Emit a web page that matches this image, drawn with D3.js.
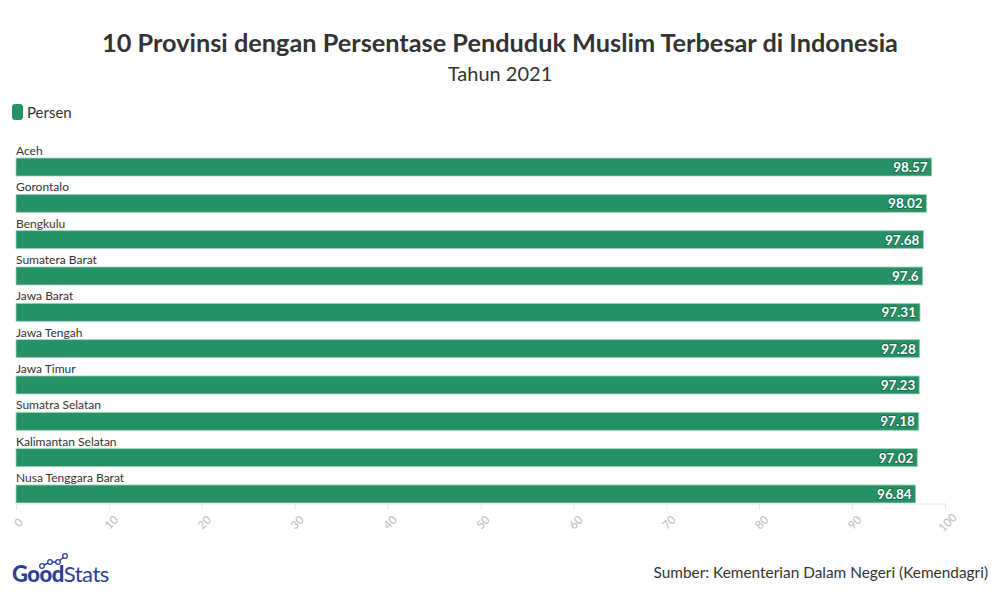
<!DOCTYPE html>
<html><head><meta charset="utf-8">
<script src="https://cdn.jsdelivr.net/npm/d3@7"></script>
<style>
body{margin:0;background:#fff;}
svg{display:block;font-family:"Source Sans Pro",Lato,"Noto Sans",sans-serif;}
</style></head>
<body><svg id="c" width="1000" height="600"></svg>
<script>
const categories = ["Aceh","Gorontalo","Bengkulu","Sumatera Barat","Jawa Barat","Jawa Tengah","Jawa Timur","Sumatra Selatan","Kalimantan Selatan","Nusa Tenggara Barat"];
const values = [98.57,98.02,97.68,97.6,97.31,97.28,97.23,97.18,97.02,96.84];
const valueLabels = ["98.57","98.02","97.68","97.6","97.31","97.28","97.23","97.18","97.02","96.84"];
const ticks = [0,10,20,30,40,50,60,70,80,90,100];

const svg = d3.select("#c");
const green = "#279166";

svg.append("text").attr("x",500).attr("y",52).attr("text-anchor","middle")
  .attr("font-size",25.3).attr("font-weight",700).attr("fill","#333")
  .text("10 Provinsi dengan Persentase Penduduk Muslim Terbesar di Indonesia");
svg.append("text").attr("x",500).attr("y",81).attr("text-anchor","middle")
  .attr("font-size",20).attr("fill","#333").text("Tahun 2021");

// legend
svg.append("rect").attr("x",12).attr("y",104).attr("width",11).attr("height",16).attr("rx",3).attr("fill",green);
svg.append("text").attr("x",27).attr("y",118).attr("font-size",15).attr("fill","#333").text("Persen");

const x = d3.scaleLinear().domain([0,100]).range([16,945]);
const y = d3.scaleBand().domain(categories).range([140.5,503.8]);

const g = svg.append("g");
const rows = g.selectAll("g.row").data(categories).join("g").attr("class","row");
rows.append("text").attr("x",16).attr("y",d=>y(d)+14.5).attr("font-size",12).attr("fill","#333").text(d=>d);
rows.append("rect").attr("x",x(0)).attr("y",d=>y(d)+17.5).attr("height",18)
  .attr("width",(d,i)=>x(values[i])-x(0)).attr("fill",green)
  .attr("stroke","#a9d3c0").attr("stroke-width",0.8);
rows.append("text").attr("x",(d,i)=>x(values[i])-4).attr("y",d=>y(d)+31.5)
  .attr("text-anchor","end").attr("font-size",13.5).attr("font-weight",700)
  .attr("fill","#fff").attr("stroke","#1d7050").attr("stroke-width",2).attr("paint-order","stroke")
  .text((d,i)=>valueLabels[i]);

// axis
const axis = d3.axisBottom(x).tickValues(ticks).tickSize(6).tickFormat(d3.format("d"));
const ax = svg.append("g").attr("transform","translate(0,503.5)").call(axis);
ax.select(".domain").attr("stroke","#e6e6e6");
ax.selectAll(".tick line").attr("stroke","#e6e6e6");
ax.selectAll(".tick text").attr("fill","#bbb").attr("font-size",11.5).attr("font-family","Lato,sans-serif")
  .attr("text-anchor","middle").attr("transform","translate(2,19) rotate(-45)").attr("dy","0.35em").attr("y",0).attr("x",0);

// source
svg.append("text").attr("x",988).attr("y",578).attr("text-anchor","end").attr("font-size",15.4).attr("fill","#333")
  .text("Sumber: Kementerian Dalam Negeri (Kemendagri)");

// logo
const logo = svg.append("g");
logo.append("text").attr("x",12).attr("y",582).attr("font-size",22).attr("font-family","Lato,sans-serif")
  .attr("fill","#2b3f97").attr("letter-spacing",-0.5)
  .html('<tspan font-weight="900">Good</tspan><tspan font-weight="400">Stats</tspan>');
const pts=[[42,566],[50,562],[58,562],[65,556]];
logo.append("path").attr("d",d3.line()(pts)).attr("fill","none").attr("stroke","#2b3f97").attr("stroke-width",1.5);
logo.selectAll("circle").data(pts).join("circle").attr("cx",d=>d[0]).attr("cy",d=>d[1]).attr("r",2.3)
  .attr("fill","#fff").attr("stroke","#2b3f97").attr("stroke-width",1.3);
</script></body></html>
